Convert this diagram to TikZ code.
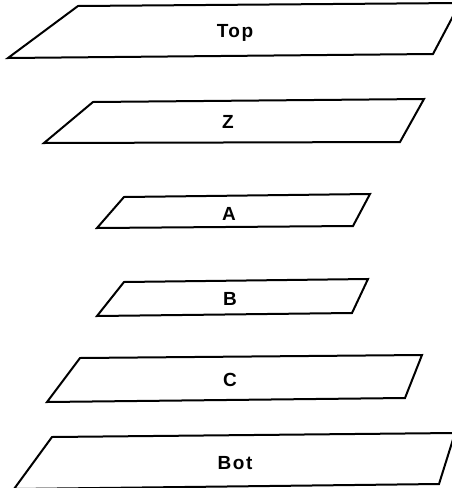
\documentclass[tikz,border=0pt]{standalone}
\usepackage{fontspec}
\setmainfont{Liberation Sans}[LetterSpace=8]
\begin{document}
\begin{tikzpicture}[x=1pt,y=-1pt,
  plane/.style={draw=black,line width=2pt,line join=miter},
  lbl/.style={font=\fontsize{19}{20}\selectfont\bfseries,inner sep=0pt}]
\useasboundingbox (0,0) rectangle (452,488);
% Top
\draw[plane] (78,6) -- (460,3) -- (433,54) -- (8,58) -- cycle;
\node[lbl] (top) at (235,33) {Top};
% Z
\draw[plane] (93,102) -- (424,99) -- (400,142) -- (44,143) -- cycle;
\node[lbl] (z) at (228,122) {Z};
% A
\draw[plane] (124,197) -- (370,194) -- (353,226) -- (97,228) -- cycle;
\node[lbl] (a) at (229,214) {A};
% B
\draw[plane] (124,282) -- (368,279) -- (352,313) -- (97,316) -- cycle;
\node[lbl] (b) at (230,299) {B};
% C
\draw[plane] (80,358) -- (422,355) -- (405,398) -- (47,402) -- cycle;
\node[lbl] (c) at (230,380) {C};
% Bot
\draw[plane] (52,437) -- (455,433) -- (439,484) -- (14,489) -- cycle;
\node[lbl] (bot) at (235,463) {Bot};
\end{tikzpicture}
\end{document}
